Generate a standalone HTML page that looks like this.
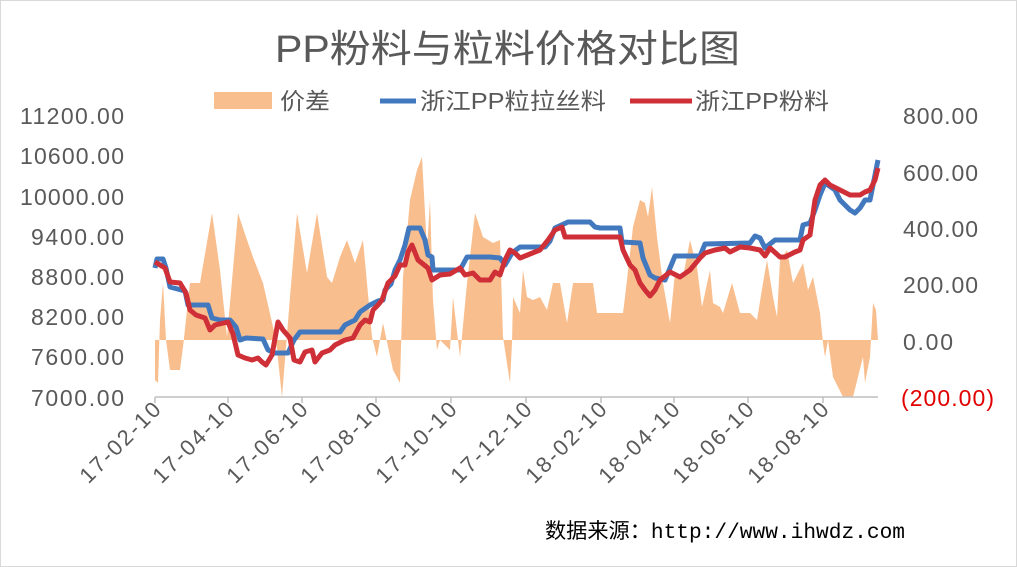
<!DOCTYPE html>
<html><head><meta charset="utf-8"><style>
html,body{margin:0;padding:0;background:#fff}
svg{display:block}
text{font-family:"Liberation Sans","Noto Sans CJK SC",sans-serif}
</style></head><body>
<svg width="1017" height="567" viewBox="0 0 1017 567" xmlns="http://www.w3.org/2000/svg">
<rect x="0.5" y="0.5" width="1016" height="566" fill="#fff" stroke="#d9d9d9"/>
<text x="275" y="62" font-size="38" fill="#595959" textLength="465" lengthAdjust="spacingAndGlyphs">PP粉料与粒料价格对比图</text>
<!-- legend -->
<rect x="214" y="92" width="58" height="17" fill="#F9BE8E"/>
<text x="280" y="109" font-size="23" fill="#595959" textLength="50" lengthAdjust="spacingAndGlyphs">价差</text>
<line x1="380" y1="101" x2="416" y2="101" stroke="#4279BE" stroke-width="5"/>
<text x="420" y="109" font-size="23" fill="#595959" textLength="186" lengthAdjust="spacingAndGlyphs">浙江PP粒拉丝料</text>
<line x1="630" y1="101" x2="692" y2="101" stroke="#CF3038" stroke-width="5"/>
<text x="695" y="109" font-size="23" fill="#595959" textLength="134" lengthAdjust="spacingAndGlyphs">浙江PP粉料</text>
<!-- left axis -->
<g font-size="23" fill="#595959" lengthAdjust="spacingAndGlyphs">
<text x="20" y="124" textLength="104">11200.00</text>
<text x="20" y="164" textLength="104">10600.00</text>
<text x="20" y="205" textLength="104">10000.00</text>
<text x="31" y="245" textLength="93">9400.00</text>
<text x="31" y="285" textLength="93">8800.00</text>
<text x="31" y="325" textLength="93">8200.00</text>
<text x="31" y="365" textLength="93">7600.00</text>
<text x="31" y="406" textLength="93">7000.00</text>
</g>
<g font-size="23" fill="#595959" lengthAdjust="spacingAndGlyphs">
<text x="903" y="124" textLength="75">800.00</text>
<text x="903" y="181" textLength="75">600.00</text>
<text x="903" y="237" textLength="75">400.00</text>
<text x="903" y="293" textLength="75">200.00</text>
<text x="903" y="350" textLength="50">0.00</text>
<text x="901" y="406" fill="#E00000" textLength="93">(200.00)</text>
</g>
<!-- area -->
<polygon fill="#F9BE8E" points="155,340 155,380 158,383 160,320 163,283 166,340 170,370 180,370 183,347 190,283 200,283 212,213 220,270 227,337 238,213 247,240 253,257 263,283 276,340 282,397 290,297 297,213 307,273 317,213 327,277 332,283 340,257 347,240 355,263 363,240 372,337 377,357 383,323 393,370 400,383 403,277 410,200 417,170 422,157 427,250 430,200 433,300 437,350 440,340 450,350 453,297 460,357 467,283 475,213 483,237 493,243 500,240 503,337 510,383 512,343 513,297 520,313 523,270 527,297 533,300 540,297 547,310 553,283 560,283 567,323 573,283 593,283 597,313 623,313 625,297 633,227 640,200 645,203 648,217 652,187 657,237 663,283 670,323 675,273 683,277 690,240 697,267 702,307 710,270 713,303 720,307 723,313 732,283 740,313 750,313 757,320 763,283 767,260 773,297 777,317 780,260 787,250 793,283 803,263 808,290 813,277 820,313 823,343 825,357 828,340 833,377 843,397 853,397 863,357 865,383 870,357 873,303 876,310 878,340"/>
<!-- x axis -->
<line x1="155" y1="397" x2="878" y2="397" stroke="#bfbfbf" stroke-width="1.5"/>
<g stroke="#bfbfbf" stroke-width="1.5">
<line x1="155" y1="397" x2="155" y2="403"/><line x1="228" y1="397" x2="228" y2="403"/><line x1="302" y1="397" x2="302" y2="403"/><line x1="376" y1="397" x2="376" y2="403"/><line x1="451" y1="397" x2="451" y2="403"/><line x1="526" y1="397" x2="526" y2="403"/><line x1="601" y1="397" x2="601" y2="403"/><line x1="674" y1="397" x2="674" y2="403"/><line x1="748" y1="397" x2="748" y2="403"/><line x1="823" y1="397" x2="823" y2="403"/>
</g>
<g font-size="22" fill="#595959" text-anchor="end" lengthAdjust="spacingAndGlyphs">
<text transform="translate(162,411) rotate(-45)" textLength="104">17-02-10</text>
<text transform="translate(235,411) rotate(-45)" textLength="104">17-04-10</text>
<text transform="translate(309,411) rotate(-45)" textLength="104">17-06-10</text>
<text transform="translate(383,411) rotate(-45)" textLength="104">17-08-10</text>
<text transform="translate(458,411) rotate(-45)" textLength="104">17-10-10</text>
<text transform="translate(533,411) rotate(-45)" textLength="104">17-12-10</text>
<text transform="translate(608,411) rotate(-45)" textLength="104">18-02-10</text>
<text transform="translate(681,411) rotate(-45)" textLength="104">18-04-10</text>
<text transform="translate(755,411) rotate(-45)" textLength="104">18-06-10</text>
<text transform="translate(830,411) rotate(-45)" textLength="104">18-08-10</text>
</g>
<!-- blue -->
<polyline fill="none" stroke="#4279BE" stroke-width="5" stroke-linejoin="round" points="155,268 157,259 163,259 166,268 170,287 185,291 188,305 208,305 212,318 220,320 230,320 236,327 240,340 246,338 263,339 268,350 275,353 288,353 294,340 300,332 340,332 345,325 355,320 360,312 370,305 378,301 383,300 385,290 391,284 395,270 400,260 405,245 409,228 420,228 425,240 428,255 432,257 433,270 460,270 467,257 490,257 500,258 505,265 512,253 520,247 545,247 550,241 555,228 568,222 590,222 595,227 600,228 620,228 622,242 640,243 643,258 650,275 655,278 665,280 670,268 675,256 700,256 705,244 750,243 755,236 760,238 765,248 775,240 800,240 803,225 810,223 815,210 820,195 825,183 835,190 840,200 850,210 855,213 860,208 865,200 870,200 875,175 878,160"/>
<!-- red -->
<polyline fill="none" stroke="#CF3038" stroke-width="5" stroke-linejoin="round" points="155,262 165,268 170,282 180,283 186,293 190,310 196,315 205,318 210,330 215,325 228,322 233,334 238,355 245,358 252,360 258,358 262,362 266,365 272,355 278,322 283,330 290,338 294,360 300,362 305,352 312,350 315,362 322,353 330,350 335,345 345,340 353,338 360,325 365,320 370,322 373,310 378,305 382,300 388,283 395,276 400,265 405,265 408,252 412,245 418,260 428,268 432,280 440,275 450,274 460,268 465,275 473,273 480,280 490,280 495,272 500,275 505,260 510,250 515,253 520,258 530,254 540,250 548,240 555,230 562,227 565,237 620,237 623,250 630,265 635,270 640,283 645,290 650,296 655,290 660,280 670,272 680,277 690,270 700,258 705,253 715,250 725,248 730,252 740,247 750,248 760,250 765,256 770,248 780,257 785,257 795,252 800,250 803,240 810,235 815,200 820,185 825,180 830,185 840,190 850,195 860,195 865,192 870,190 875,180 878,168"/>
<text x="545" y="538" font-size="21" fill="#000" textLength="360" lengthAdjust="spacingAndGlyphs">数据来源：<tspan font-family="'Liberation Mono',monospace">http://www.ihwdz.com</tspan></text>
</svg>
</body></html>
